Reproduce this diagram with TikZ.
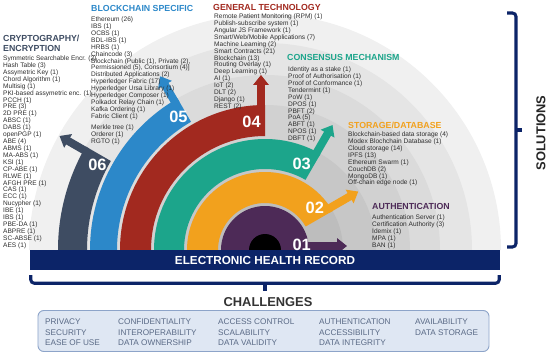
\documentclass[tikz,border=0pt]{standalone}
\usepackage{fontspec}
\setmainfont{Liberation Sans}
\usepackage{tikz}
\usepackage{xcolor}
\usetikzlibrary{calc,arrows.meta,positioning}

\definecolor{ehrnavy}{HTML}{0C2468}
\definecolor{ringone}{HTML}{4D2A57}
\definecolor{ringtwo}{HTML}{F2A11D}
\definecolor{ringthree}{HTML}{1CA58B}
\definecolor{ringfour}{HTML}{A2291F}
\definecolor{ringfive}{HTML}{2C88C9}
\definecolor{ringsix}{HTML}{3E4C62}
\definecolor{listgray}{HTML}{2E2E2E}
\definecolor{chalfill}{HTML}{DFE7F3}
\definecolor{chaldraw}{HTML}{8DA4C9}
\definecolor{chaltext}{HTML}{5A6A86}

\tikzset{
  listtext/.style={anchor=north west,inner sep=0pt,align=left,text=listgray,font=\fontsize{5.6}{5.9}\selectfont},
  head/.style={anchor=north west,inner sep=0pt,align=left,font=\bfseries\fontsize{7.5}{8.5}\selectfont},
  ringnum/.style={text=white,font=\bfseries\fontsize{14}{14}\selectfont},
  chal/.style={anchor=north west,inner sep=0pt,align=left,text=chaltext,font=\fontsize{7}{8.9}\selectfont},
  ehrbrace/.style={ehrnavy,line width=2.6pt,rounded corners=3}
}

\begin{document}
\begin{tikzpicture}[x=0.03cm,y=0.03cm]
\useasboundingbox (0,0) rectangle (550,353);
\coordinate (c) at (265,103);
\begin{scope}[shift={(c)}]
\foreach \rad/\gr in {236/6,207/10,175/14,145/18,111/22,78/26}{
  \fill[black!\gr] (-\rad,0) arc[start angle=180,end angle=0,radius=\rad] -- cycle;
}
\foreach \k/\ri/\ro/\ang/\len/\col in {1/14/44/0/38/ringone,2/47/78/30/32/ringtwo,3/81/111/60/31/ringthree,4/114/145/90/30/ringfour,5/148/175/120/28/ringfive,6/178/207/150/28/ringsix}{
  \fill[\col] (180:\ro) arc[start angle=180,end angle=\ang,radius=\ro] -- (\ang:\ri) arc[start angle=\ang,end angle=180,radius=\ri] -- cycle;
  \begin{scope}[rotate=\ang]
    \coordinate (s\k) at (\ro-4,4);
    \coordinate (t\k) at (\ro+\len,4);
  \end{scope}
  \draw[\col,line width=6.8pt,-{Triangle[width=13pt,length=8.5pt]}] (s\k) -- (t\k);
}
\fill[black] (0,0) circle[radius=16];
\end{scope}

\node[fill=ehrnavy,text=white,font=\bfseries\fontsize{10}{10}\selectfont,minimum width=14.1cm,minimum height=0.6cm,inner sep=0pt] (ehr) at (265,93) {ELECTRONIC HEALTH RECORD};
\foreach \k/\la/\lr in {1/8/37,2/40/65,3/67/94,4/96/129,5/123/159,6/153/188}
  \node[ringnum] (num\k) at ($(c)+(\la:\lr)$) {0\k};

% solution groups
\node[head,text=ringsix] (crypto) at (3,318) {CRYPTOGRAPHY/\\ENCRYPTION};
\node[listtext] (cryptolist) at (3,297.4) {Symmetric Searchable Encr. (2)\\Hash Table (3)\\Assymetric Key (1)\\Chord Algorithm (1)\\Multisig (1)\\PKI-based assymetric enc. (1)\\PCCH (1)\\PRE (3)\\2D PRE (1)\\ABSC (1)\\DABS (1)\\openPGP (1)\\ABE (4)\\ABMS (1)\\MA-ABS (1)\\KSI (1)\\CP-ABE (1)\\RLWE (1)\\AFGH PRE (1)\\CAS (1)\\ECC (1)\\Nucypher (1)\\IBE (1)\\IBS (1)\\PBE-DA (1)\\ABPRE (1)\\SC-ABSE (1)\\AES (1)};
\node[head,text=ringfive] (chain) at (91,348.2) {BLOCKCHAIN SPECIFIC};
\node[listtext] (chainlist) at (91,336.4) {Ethereum (26)\\IBS (1)\\OCBS (1)\\BDL-IBS (1)\\HRBS (1)\\Chaincode (3)\\Blockchain (Public (1), Private (2),\\Permissioned (5), Consortium (4)]\\Distributed Applications (2)\\Hyperledger Fabric (17)\\Hyperledger Ursa Library (1)\\Hyperledger Composer (1)\\Polkadot Relay Chain (1)\\Kafka Ordering (1)\\Fabric Client (1)};
\node[listtext] (chainmore) at (91,228.4) {Merkle tree (1)\\Orderer (1)\\RGTO (1)};
\node[head,text=ringfour] (tech) at (213,349.2) {GENERAL TECHNOLOGY};
\node[listtext] (techlist) at (214,339.4) {Remote Patient Monitoring (RPM) (1)\\Publish-subscribe system (1)\\Angular JS Framework (1)\\Smart/Web/Mobile Applications (7)\\Machine Learning (2)\\Smart Contracts (21)\\Blockchain (13)\\Routing Overlay (1)\\Deep Learning (1)\\AI (1)\\IoT (2)\\DLT (2)\\Django (1)\\REST (2)};
\node[head,text=ringthree] (cons) at (287,299.2) {CONSENSUS MECHANISM};
\node[listtext] (conslist) at (288,286.4) {Identity as a stake (1)\\Proof of Authorisation (1)\\Proof of Conformance (1)\\Tendermint (1)\\PoW (1)\\DPOS (1)\\PBFT (2)\\PoA (5)\\ABFT (1)\\NPOS (1)\\DBFT (1)};
\node[head,text=ringtwo] (store) at (348,231.2) {STORAGE/DATABASE};
\node[listtext] (storelist) at (348,221.4) {Blockchain-based data storage (4)\\Modex Blochchain Database (1)\\Cloud storage (14)\\IPFS (13)\\Ethereum Swarm (1)\\CouchDB (2)\\MongoDB (1)\\Off-chain edge node (1)};
\node[head,text=ringone] (auth) at (372,150.2) {AUTHENTICATION};
\node[listtext] (authlist) at (372,138.4) {Authentication Server (1)\\Certification Authority (3)\\Idemix (1)\\MPA (1)\\BAN (1)};

% braces
\draw[ehrbrace] ($(ehr.south west)+(1,-5)$) |- ($(ehr.south east)+(-1,-13)$) -- ++(0,8);
\draw[ehrbrace] ($(ehr.south)+(0,-13)$) -- ++(0,-8);
\draw[ehrbrace] (507,340) -| (516,106) -- (507,106);
\draw[ehrbrace] (516,223) -- (522,223);
\node[rotate=90,font=\bfseries\fontsize{11}{11}\selectfont,text=black!85] (sol) at (541,220) {SOLUTIONS};
\node[font=\bfseries\fontsize{11}{11}\selectfont,text=black!80] (chal) at (268,51) {CHALLENGES};

\node[draw=chaldraw,fill=chalfill,rounded corners=5pt,line width=0.8pt,minimum width=13.53cm,minimum height=1.23cm,inner sep=0pt] (chalbox) at (263.5,22) {};
\node[chal] (colone) at (45,34) {PRIVACY\\SECURITY\\EASE OF USE};
\node[chal] (coltwo) at (118,34) {CONFIDENTIALITY\\INTEROPERABILITY\\DATA OWNERSHIP};
\node[chal] (colthree) at (218,34) {ACCESS CONTROL\\SCALABILITY\\DATA VALIDITY};
\node[chal] (colfour) at (319,34) {AUTHENTICATION\\ACCESSIBILITY\\DATA INTEGRITY};
\node[chal] (colfive) at (415,34) {AVAILABILITY\\DATA STORAGE};
\end{tikzpicture}
\end{document}
